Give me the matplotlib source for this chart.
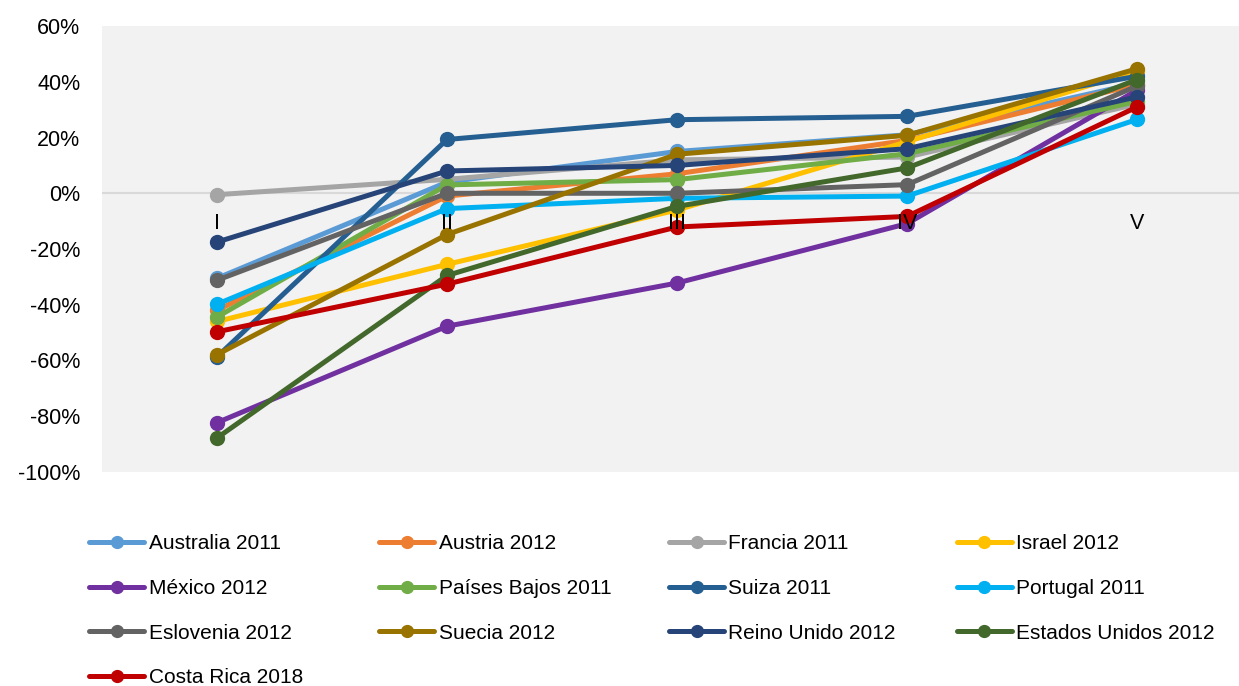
import matplotlib.pyplot as plt
from matplotlib.ticker import FuncFormatter

plt.rcParams['font.family'] = ['Liberation Sans', 'DejaVu Sans']

## Data (share of change per quintile)
quintiles = ['I', 'II', 'III', 'IV', 'V']

australia_2011 = [-30.5, 4.0, 15.0, 21.0, 39.5]
austria_2012 = [-42.0, -1.0, 7.0, 19.0, 39.0]
francia_2011 = [-0.5, 5.0, 12.0, 13.0, 32.0]
israel_2012 = [-46.0, -25.5, -6.0, 18.5, 44.0]
mexico_2012 = [-82.3, -47.7, -32.2, -10.9, 37.0]
paises_bajos_2011 = [-44.4, 3.0, 4.9, 14.2, 33.0]
suiza_2011 = [-58.7, 19.3, 26.4, 27.6, 42.0]
portugal_2011 = [-39.8, -5.5, -1.8, -1.0, 26.5]
eslovenia_2012 = [-31.2, 0.0, 0.0, 3.1, 38.5]
suecia_2012 = [-57.9, -14.8, 14.0, 20.8, 44.7]
reino_unido_2012 = [-17.5, 8.0, 10.0, 16.0, 34.6]
estados_unidos_2012 = [-87.8, -29.5, -4.7, 9.1, 40.8]
costa_rica_2018 = [-49.7, -32.6, -12.1, -8.3, 31.0]

series = [
    ('Australia 2011', australia_2011, '#5B9BD5'),
    ('Austria 2012', austria_2012, '#ED7D31'),
    ('Francia 2011', francia_2011, '#A5A5A5'),
    ('Israel 2012', israel_2012, '#FFC000'),
    ('México 2012', mexico_2012, '#7030A0'),
    ('Países Bajos 2011', paises_bajos_2011, '#70AD47'),
    ('Suiza 2011', suiza_2011, '#255E91'),
    ('Portugal 2011', portugal_2011, '#00B0F0'),
    ('Eslovenia 2012', eslovenia_2012, '#636363'),
    ('Suecia 2012', suecia_2012, '#997300'),
    ('Reino Unido 2012', reino_unido_2012, '#264478'),
    ('Estados Unidos 2012', estados_unidos_2012, '#43682B'),
    ('Costa Rica 2018', costa_rica_2018, '#C00000'),
]

## Plotting
fig = plt.figure(figsize=(12.39, 6.86), dpi=100)
ax = fig.add_axes([0.0823, 0.312, 0.9177, 0.65])
ax.set_facecolor('#F2F2F2')

x = range(len(quintiles))
ax.axhline(0, color='#D9D9D9', linewidth=1.5, zorder=1)

handles = []
for name, vals, col in series:
    h, = ax.plot(x, vals, color=col, linewidth=3.6, marker='o', markersize=10,
                 label=name, zorder=3, solid_capstyle='round')
    handles.append(h)

# category labels sit just under the zero line, drawn over the lines
for i, q in enumerate(quintiles):
    ax.text(i, -7.0, q, ha='center', va='top', fontsize=15.5, zorder=5)

ax.set_xlim(-0.5, 4.443)
ax.set_ylim(-100, 60)
ax.set_yticks(range(-100, 61, 20))
ax.yaxis.set_major_formatter(FuncFormatter(lambda v, p: f'{v:.0f}%'))
ax.tick_params(axis='y', length=0, pad=15.5, labelsize=15.5)
ax.set_xticks([])
for s in ax.spines.values():
    s.set_visible(False)

# legend in a fixed 4-column grid, filled row by row like the original
ncol = 4
col_x = [0.072, 0.306, 0.540, 0.772]
for c in range(ncol):
    idx = list(range(c, len(series), ncol))
    leg = fig.legend([handles[i] for i in idx], [series[i][0] for i in idx],
                     loc='upper left', bbox_to_anchor=(col_x[c], 0.221),
                     frameon=False, fontsize=15, handlelength=2.65,
                     handletextpad=0.2, labelspacing=1.23, borderaxespad=0,
                     borderpad=0, markerscale=0.85)

fig.savefig('out.png', dpi=100)
